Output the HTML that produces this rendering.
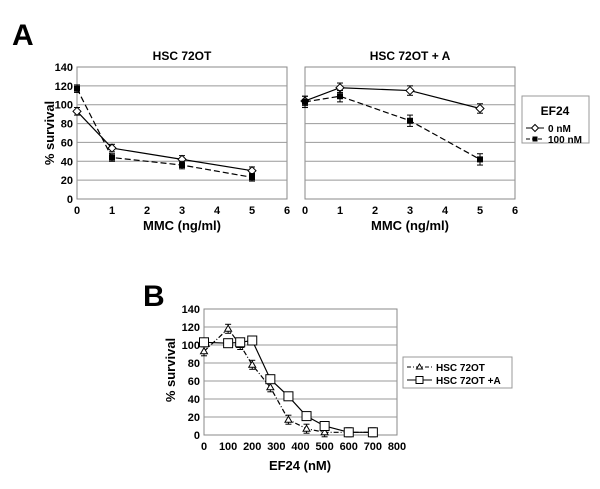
<!DOCTYPE html>
<html><head><meta charset="utf-8"><style>
body{margin:0;background:#fff;width:600px;height:484px;overflow:hidden}
svg{font-family:"Liberation Sans",Arial,sans-serif;font-weight:bold}
</style></head><body>
<svg id="s" width="600" height="484" xmlns="http://www.w3.org/2000/svg">
<text x="12" y="45" font-size="30">A</text>
<text x="143" y="306" font-size="30">B</text>
<text x="182" y="60" font-size="12" text-anchor="middle">HSC 72OT</text>
<text x="410" y="60" font-size="12" text-anchor="middle">HSC 72OT + A</text>
<text transform="translate(54,133) rotate(-90)" font-size="13" text-anchor="middle">% survival</text>
<text x="182" y="230" font-size="13" text-anchor="middle">MMC (ng/ml)</text>
<text x="410" y="230" font-size="13" text-anchor="middle">MMC (ng/ml)</text>
<text transform="translate(175,370) rotate(-90)" font-size="13" text-anchor="middle">% survival</text>
<text x="300" y="470" font-size="13" text-anchor="middle">EF24 (nM)</text>
<g>
<rect x="522" y="96" width="67" height="47" fill="#fff" stroke="#999"/>
<text x="555" y="115" font-size="12" text-anchor="middle">EF24</text>
<line x1="526" y1="128" x2="544" y2="128" stroke="#000"/><polygon points="535,124.5 538.5,128 535,131.5 531.5,128" fill="#fff" stroke="#000"/>
<text x="548" y="132" font-size="10">0 nM</text>
<line x1="526" y1="139" x2="544" y2="139" stroke="#000" stroke-dasharray="4,2"/><rect x="532.5" y="136.5" width="5" height="5"/>
<text x="548" y="143" font-size="10">100 nM</text>
</g>
<g>
<rect x="403" y="357" width="109" height="31" fill="#fff" stroke="#999"/>
<line x1="407" y1="367" x2="432" y2="367" stroke="#000" stroke-dasharray="4,2,1,2"/><polygon points="419.5,364 422.5,369 416.5,369" fill="#fff" stroke="#000"/>
<text x="436" y="371" font-size="10">HSC 72OT</text>
<line x1="407" y1="380" x2="432" y2="380" stroke="#000"/><rect x="416" y="376.5" width="7" height="7" fill="#fff" stroke="#000"/>
<text x="436" y="384" font-size="10">HSC 72OT +A</text>
</g>
</svg>
<script>
const mmcX=[0,1,3,5];
const leftZero=[93,54,42,30];
const leftHundred=[117,44,36,23];
const rightZero=[104,118,115,96];
const rightHundred=[103,109,83,42];
const mmcTicks=[0,1,2,3,4,5,6];
const pctTicks=[0,20,40,60,80,100,120,140];
const efX=[0,100,150,200,275,350,425,500,600,700];
const efHSC=[93,118,100,78,53,17,7,3,3,3];
const efHSCA=[103,102,103,105,62,43,21,10,3,3];
const efTicks=[0,100,200,300,400,500,600,700,800];
const NS='http://www.w3.org/2000/svg';
const svg=document.getElementById('s');
function el(t,a,p){const e=document.createElementNS(NS,t);for(const k in a)e.setAttribute(k,a[k]);(p||svg).appendChild(e);return e;}
function panel(name,x0,x1,y0,y1,xmax,xt,ymaxLabel,showY){
  const g=el('g',{});
  
  
  const sx=v=>x0+(x1-x0)*v/xmax, sy=v=>y0+(y1-y0)*v/140;
  el('rect',{x:x0,y:y1,width:x1-x0,height:y0-y1,fill:'#fff',stroke:'#888'},g);
  pctTicks.forEach(t=>{
    if(t>0&&t<140){const l=el('line',{x1:x0,x2:x1,y1:sy(t),y2:sy(t),stroke:'#999'},g);}
    if(showY){const tx=el('text',{x:x0-4,y:sy(t)+4,'font-size':11,'text-anchor':'end'},g);tx.textContent=t;}
  });
  xt.forEach(t=>{const tx=el('text',{x:sx(t),y:y0+15,'font-size':11,'text-anchor':'middle'},g);tx.textContent=t;});
  return {g,sx,sy};
}
function series(p,xs,ys,dash,marker,name,err){
  const g=el('g',{},p.g);
  
  
  let d='';xs.forEach((x,i)=>d+=(i?'L':'M')+p.sx(x)+','+p.sy(ys[i]));
  el('path',{d,fill:'none',stroke:'#000','stroke-width':1.2,'stroke-dasharray':dash},g);
  xs.forEach((x,i)=>{
    const cx=p.sx(x),cy=p.sy(ys[i]);
    el('line',{x1:cx,x2:cx,y1:p.sy(ys[i]+err),y2:p.sy(ys[i]-err),stroke:'#000'},g);
    el('line',{x1:cx-3,x2:cx+3,y1:p.sy(ys[i]+err),y2:p.sy(ys[i]+err),stroke:'#000'},g);
    el('line',{x1:cx-3,x2:cx+3,y1:p.sy(ys[i]-err),y2:p.sy(ys[i]-err),stroke:'#000'},g);
    let m;
    if(marker==='diamond')m=el('polygon',{points:`${cx},${cy-4} ${cx+4},${cy} ${cx},${cy+4} ${cx-4},${cy}`,fill:'#fff',stroke:'#000'},g);
    else if(marker==='fsq')m=el('rect',{x:cx-3,y:cy-3,width:6,height:6,fill:'#000'},g);
    else if(marker==='tri')m=el('polygon',{points:`${cx},${cy-3.5} ${cx+3.5},${cy+2.5} ${cx-3.5},${cy+2.5}`,fill:'#fff',stroke:'#000'},g);
    else m=el('rect',{x:cx-4.5,y:cy-4.5,width:9,height:9,fill:'#fff',stroke:'#000'},g);
    
    
  });
}
const pl=panel('chart-left',77,287,199,67,6,mmcTicks,140,true);
series(pl,mmcX,leftZero,'','diamond','series-0nm-left',4);
series(pl,mmcX,leftHundred,'6,3','fsq','series-100nm-left',4);
const pr=panel('chart-right',305,515,199,67,6,mmcTicks,140,false);
series(pr,mmcX,rightZero,'','diamond','series-0nm-right',5);
series(pr,mmcX,rightHundred,'6,3','fsq','series-100nm-right',6);
const pb=panel('chart-b',204,397,435,309,800,efTicks,140,true);
series(pb,efX,efHSC,'5,2,1,2','tri','series-hsc72ot',5);
series(pb,efX,efHSCA,'','sq','series-hsc72ot-a',3);
</script>
</body></html>
